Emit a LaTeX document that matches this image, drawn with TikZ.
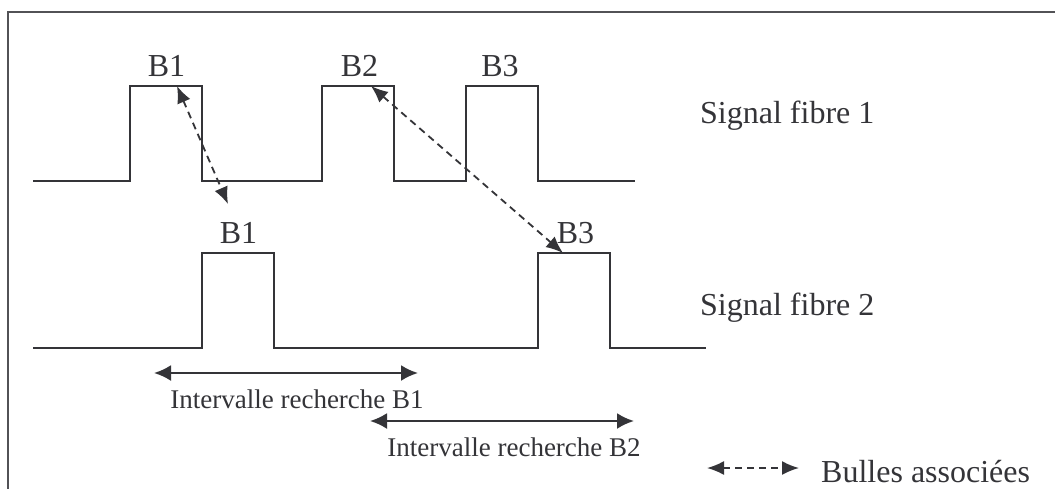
\documentclass[tikz,border=0pt]{standalone}
\usepackage{fontspec}
\setmainfont{Liberation Serif}
\usetikzlibrary{arrows.meta}
\definecolor{ink}{RGB}{52,52,56}
\tikzset{
  sig/.style={draw=ink, line width=2.3pt, line join=miter},
  frameline/.style={draw=ink!85, line width=2.6pt},
  bigtxt/.style={text=ink, inner sep=0pt, anchor=base, font=\fontsize{32}{36}\selectfont},
  smalltxt/.style={text=ink, inner sep=0pt, anchor=base, font=\fontsize{27}{31}\selectfont},
  assoc/.style={draw=ink, line width=1.8pt, dash pattern=on 7pt off 5pt, {Latex[length=17pt,width=14pt]}-{Latex[length=17pt,width=14pt]}},
  interval/.style={draw=ink, line width=2.3pt, {Latex[length=17pt,width=16pt]}-{Latex[length=17pt,width=16pt]}}
}
\begin{document}
\begin{tikzpicture}[x=1pt,y=-1pt]
\clip (0,0) rectangle (1055,488);
\fill[white] (0,0) rectangle (1055,488);
% frame
\draw[frameline] (8,500) -- (8,12) -- (1070,12);
% signal 1
\draw[sig] (33,181) -- (130,181) -- (130,86) -- (202,86) -- (202,181)
  -- (322,181) -- (322,86) -- (394,86) -- (394,181)
  -- (466,181) -- (466,86) -- (538,86) -- (538,181) -- (635,181);
% signal 2
\draw[sig] (33,348) -- (202,348) -- (202,253) -- (274,253) -- (274,348)
  -- (538,348) -- (538,253) -- (610,253) -- (610,348) -- (706,348);
% labels
\node[bigtxt] (t1) at (166.5,76) {B1};
\node[bigtxt] (t2) at (359.5,76) {B2};
\node[bigtxt] (t3) at (500,76) {B3};
\node[bigtxt] (b1) at (238.5,243) {B1};
\node[bigtxt] (b3) at (575.5,243) {B3};
\node[bigtxt, anchor=base west] (s1) at (700,123) {Signal fibre 1};
\node[bigtxt, anchor=base west] (s2) at (700,315) {Signal fibre 2};
% association arrows
\coordinate (a1) at (177,86);
\coordinate (a2) at (228,204);
\coordinate (c1) at (371,86);
\coordinate (c2) at (563,253);
\draw[assoc] (a1) -- (a2);
\draw[assoc] (c1) -- (c2);
% search intervals
\coordinate (i1l) at (154,373);
\coordinate (i1r) at (418,373);
\coordinate (i2l) at (370,421);
\coordinate (i2r) at (634,421);
\draw[interval] (i1l) -- (i1r);
\draw[interval] (i2l) -- (i2r);
\node[smalltxt] (l1) at (297,408) {Intervalle recherche B1};
\node[smalltxt] (l2) at (514,456) {Intervalle recherche B2};
% legend
\coordinate (g1) at (707,468);
\coordinate (g2) at (799,468);
\draw[assoc] (g1) -- (g2);
\node[bigtxt, anchor=base west] (leg) at (821,482) {Bulles associées};
\end{tikzpicture}
\end{document}
